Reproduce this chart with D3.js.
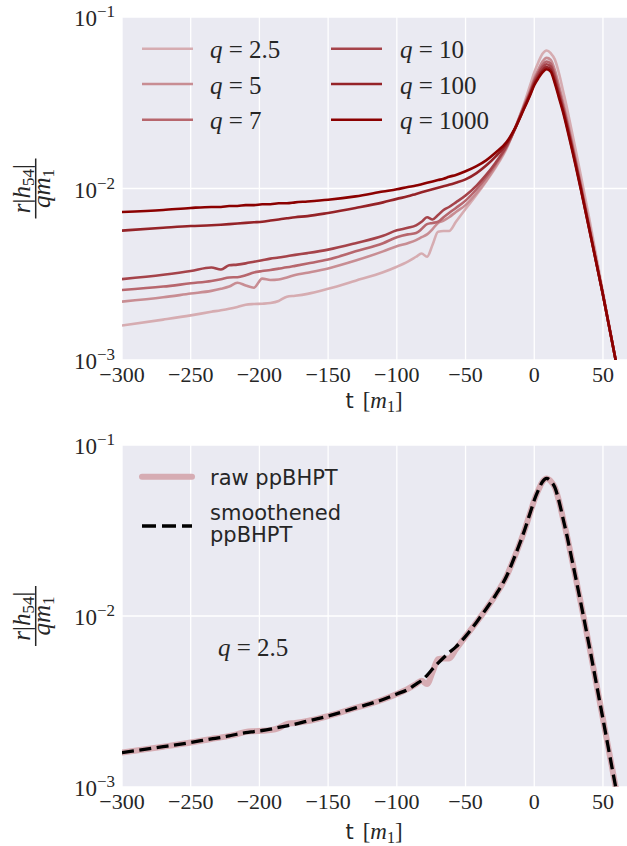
<!DOCTYPE html>
<html><head><meta charset="utf-8">
<script src="https://cdn.jsdelivr.net/npm/d3@7/dist/d3.min.js"></script>
<style>
body{margin:0;background:#fff}svg{display:block}
.serif{font-family:"Liberation Serif","Times New Roman","DejaVu Serif",serif}
.sans{font-family:"DejaVu Sans","Liberation Sans",sans-serif}
</style>
</head><body>
<svg id="c" width="627" height="846"></svg>
<script>
// ---------------- data ----------------
const T = [-300,-270,-250,-235,-228,-222,-216,-210,-204,-198,-192,-186,-180,-174,-165,-150,-130,-110,-100,-92,-86,-82,-78,-74,-70,-66,-62,-57,-50,-42,-35,-28,-20,-14,-8,-3,0,3,6,9,12,15,18,21,24,27,30,34,40,50,60,70];

const q2p5 = [0.00159,0.00172,0.00182,0.00191,0.00195,0.00199,0.00204,0.00210,0.00212,0.00213,0.00215,0.00221,0.00234,0.00237,0.00243,0.00260,0.00290,0.00325,0.00350,0.00375,0.00400,0.00418,0.00400,0.00470,0.00560,0.00565,0.00565,0.00640,0.00760,0.00920,0.01100,0.01330,0.01720,0.02250,0.03020,0.04000,0.04750,0.05450,0.06100,0.06380,0.06150,0.05650,0.04700,0.03700,0.02900,0.02220,0.01700,0.01180,0.00670,0.00250,0.00093,0.00036];

const q5 = [0.00219,0.00232,0.00244,0.00253,0.00260,0.00268,0.00282,0.00272,0.00264,0.00298,0.00293,0.00295,0.00303,0.00313,0.00323,0.00342,0.0038,0.0043,0.0046,0.0048,0.0050,0.0052,0.0054,0.0058,0.0063,0.0065,0.0068,0.0073,0.0080,0.0094,0.0111,0.0135,0.0174,0.0224,0.0298,0.0375,0.0440,0.0495,0.0550,0.0578,0.0562,0.0490,0.0398,0.0320,0.0252,0.0196,0.0151,0.0106,0.0062,0.0024,0.00093,0.00038];

const q7 = [0.00256,0.00268,0.0028,0.00289,0.00296,0.00303,0.00304,0.00312,0.00324,0.00330,0.00335,0.00341,0.00347,0.00354,0.00365,0.00385,0.0043,0.0048,0.0052,0.0054,0.0055,0.0058,0.0062,0.0063,0.0064,0.0068,0.0072,0.0077,0.0085,0.0099,0.0116,0.0139,0.0176,0.0223,0.0295,0.0368,0.0428,0.0478,0.0525,0.0550,0.0535,0.0462,0.0376,0.0305,0.0242,0.0189,0.0146,0.0103,0.0060,0.0024,0.00093,0.00038];

const q10 = [0.00296,0.00314,0.00330,0.00346,0.00337,0.00357,0.00360,0.00366,0.00374,0.00382,0.0039,0.00396,0.00403,0.0041,0.0042,0.0044,0.0048,0.0053,0.0057,0.0059,0.0061,0.0064,0.0068,0.0066,0.0070,0.0075,0.0078,0.0083,0.0091,0.0104,0.0120,0.0142,0.0178,0.0223,0.0292,0.0362,0.0418,0.0465,0.0508,0.0530,0.0515,0.0445,0.0362,0.0295,0.0235,0.0184,0.0143,0.0101,0.0059,0.0024,0.00093,0.00038];

const q100 = [0.00568,0.0059,0.00604,0.0061,0.00615,0.0062,0.00625,0.0063,0.00635,0.0064,0.0065,0.0066,0.0067,0.0068,0.0069,0.0072,0.0077,0.0083,0.0087,0.0090,0.0093,0.0095,0.0097,0.0099,0.0101,0.0103,0.0105,0.0108,0.0113,0.0123,0.0136,0.0154,0.0183,0.0223,0.0287,0.0355,0.0408,0.0450,0.0488,0.0510,0.0494,0.0423,0.0348,0.0285,0.0228,0.0179,0.0140,0.0099,0.0058,0.0024,0.00093,0.00038];

const q1000 = [0.0073,0.0075,0.0077,0.0078,0.0078,0.0079,0.0079,0.0080,0.0080,0.0081,0.0081,0.0082,0.0082,0.0083,0.0084,0.0086,0.0090,0.0096,0.0099,0.0102,0.0104,0.0106,0.0108,0.0110,0.0112,0.0114,0.0117,0.0120,0.0126,0.0135,0.0146,0.0162,0.0187,0.0225,0.0285,0.0350,0.0400,0.0440,0.0475,0.0496,0.0480,0.0410,0.0338,0.0278,0.0222,0.0175,0.0137,0.0098,0.0058,0.0024,0.00093,0.00038];

const q2p5Smooth = [0.00159,0.00172,0.00182,0.00191,0.00195,0.00199,0.00204,0.00208,0.00211,0.00214,0.00218,0.00223,0.00228,0.00233,0.00243,0.00260,0.00290,0.00325,0.00350,0.00372,0.00400,0.00420,0.00450,0.00490,0.00530,0.00570,0.00610,0.00660,0.00760,0.00920,0.01100,0.01330,0.01720,0.02250,0.03020,0.04000,0.04750,0.05450,0.06100,0.06380,0.06150,0.05650,0.04700,0.03700,0.02900,0.02220,0.01700,0.01180,0.00670,0.00250,0.00093,0.00036];

const qLabels = ["2.5","5","7","10","100","1000"];
const xTicks = [-300,-250,-200,-150,-100,-50,0,50];
const yTickExps = [-1,-2,-3];

// ---------------- style ----------------
const colors = ["#d6acb1","#c88d93","#b7666d","#a5434a","#952328","#8b0000"];
const rawColor = "#d6acb3";
const bg = "#eaeaf2";
const txt = "#262626";

const svg = d3.select("#c");
const series = [q2p5, q5, q7, q10, q100, q1000];

function panel(id, yTop, yBot, xLabelBase) {
  const x = d3.scaleLinear().domain([-300, 67.5]).range([122, 627]);
  const y = d3.scaleLog().domain([1e-3, 1e-1]).range([yBot, yTop]);
  const g = svg.append("g");
  g.append("rect").attr("x",122).attr("y",yTop).attr("width",627-122).attr("height",yBot-yTop).attr("fill",bg);
  g.selectAll(".vg").data(xTicks).enter().append("line")
    .attr("x1",d=>x(d)).attr("x2",d=>x(d)).attr("y1",yTop).attr("y2",yBot)
    .attr("stroke","#fff").attr("stroke-width",1.3);
  g.selectAll(".hg").data(yTickExps).enter().append("line")
    .attr("x1",122).attr("x2",627).attr("y1",d=>y(Math.pow(10,d))).attr("y2",d=>y(Math.pow(10,d)))
    .attr("stroke","#fff").attr("stroke-width",1.3);
  svg.append("clipPath").attr("id","clip"+id).append("rect")
    .attr("x",122).attr("y",yTop).attr("width",627-122).attr("height",yBot-yTop);
  g.selectAll(".xt").data(xTicks).enter().append("text").attr("class","serif")
    .attr("x",d=>x(d)).attr("y",yBot+22).attr("text-anchor","middle")
    .attr("font-size",22).attr("fill",txt)
    .text(d=> d<0 ? "\u2212"+Math.abs(d) : String(d));
  yTickExps.forEach(e=>{
    const t = g.append("text").attr("class","serif").attr("x",115).attr("y",y(Math.pow(10,e))+9)
      .attr("text-anchor","end").attr("font-size",23).attr("fill",txt);
    t.append("tspan").text("10");
    t.append("tspan").attr("dy",-9).attr("font-size",17).text("\u2212"+Math.abs(e));
  });
  const xl = g.append("text").attr("class","serif").attr("x",374).attr("y",xLabelBase).attr("text-anchor","middle")
    .attr("fill",txt).attr("font-size",23);
  xl.append("tspan").attr("class","sans").attr("font-size",21).text("t");
  xl.append("tspan").attr("dx",9).text("[");
  xl.append("tspan").attr("font-style","italic").text("m");
  xl.append("tspan").attr("font-size",16).attr("dy",4).text("1");
  xl.append("tspan").attr("dy",-4).text("]");
  const cy = (yTop+yBot)/2;
  const yl = g.append("g").attr("transform",`translate(35.7,${cy}) rotate(-90)`);
  yl.append("line").attr("x1",-30).attr("x2",30).attr("y1",0).attr("y2",0)
    .attr("stroke",txt).attr("stroke-width",1.5);
  const num = yl.append("text").attr("class","serif").attr("x",0).attr("y",-6).attr("text-anchor","middle")
    .attr("font-size",25).attr("fill",txt);
  num.append("tspan").attr("font-style","italic").text("r");
  num.append("tspan").text("|");
  num.append("tspan").attr("font-style","italic").text("h");
  num.append("tspan").attr("font-size",17).attr("dy",4).text("54");
  num.append("tspan").attr("dy",-4).text("|");
  const den = yl.append("text").attr("class","serif").attr("x",0).attr("y",14).attr("text-anchor","middle")
    .attr("font-size",25).attr("fill",txt);
  den.append("tspan").attr("font-style","italic").text("qm");
  den.append("tspan").attr("font-size",17).attr("dy",4).text("1");
  return {x, y, g, clip:"url(#clip"+id+")"};
}

// ---------------- top panel ----------------
const P1 = panel("a", 17, 360, 408);
const line1 = d3.line().x((d,i)=>P1.x(T[i])).y(d=>P1.y(d)).curve(d3.curveMonotoneX);
const lg1 = P1.g.append("g").attr("clip-path",P1.clip);
series.forEach((s,k)=>{
  lg1.append("path").attr("d",line1(s)).attr("fill","none")
    .attr("stroke",colors[k]).attr("stroke-width",2.6).attr("stroke-linejoin","round");
});
const legRows = [48.7, 84, 119.7];
qLabels.forEach((lab,k)=>{
  const col = Math.floor(k/3), row = k%3;
  const lx = col===0 ? 142 : 331;
  const tx = col===0 ? 210 : 400;
  const yy = legRows[row];
  P1.g.append("line").attr("x1",lx).attr("x2",lx+51).attr("y1",yy).attr("y2",yy)
    .attr("stroke",colors[k]).attr("stroke-width",2.6);
  const t = P1.g.append("text").attr("class","serif").attr("x",tx).attr("y",yy+9.5)
    .attr("font-size",25).attr("fill",txt).attr("xml:space","preserve");
  t.append("tspan").attr("font-style","italic").text("q");
  t.append("tspan").text(" = "+lab);
});

// ---------------- bottom panel ----------------
const P2 = panel("b", 445, 787, 839);
const line2 = d3.line().x((d,i)=>P2.x(T[i])).y(d=>P2.y(d)).curve(d3.curveMonotoneX);
const lg2 = P2.g.append("g").attr("clip-path",P2.clip);
lg2.append("path").attr("d",line2(q2p5)).attr("fill","none")
  .attr("stroke",rawColor).attr("stroke-width",6).attr("stroke-linejoin","round").attr("stroke-linecap","round");
lg2.append("path").attr("d",line2(q2p5Smooth)).attr("fill","none")
  .attr("stroke","#000").attr("stroke-width",3.3).attr("stroke-dasharray","12,5.5");
P2.g.append("line").attr("x1",142).attr("x2",192).attr("y1",476.7).attr("y2",476.7)
  .attr("stroke",rawColor).attr("stroke-width",6).attr("stroke-linecap","round");
P2.g.append("text").attr("class","sans").attr("x",210).attr("y",485).attr("font-size",21)
  .attr("fill",txt).text("raw ppBHPT");
P2.g.append("line").attr("x1",142).attr("x2",192).attr("y1",526).attr("y2",526)
  .attr("stroke","#000").attr("stroke-width",3.3).attr("stroke-dasharray","14,6");
P2.g.append("text").attr("class","sans").attr("x",210).attr("y",520).attr("font-size",21)
  .attr("fill",txt).text("smoothened");
P2.g.append("text").attr("class","sans").attr("x",210).attr("y",542).attr("font-size",21)
  .attr("fill",txt).text("ppBHPT");
const ann = P2.g.append("text").attr("class","serif").attr("x",218).attr("y",656)
  .attr("font-size",25).attr("fill",txt).attr("xml:space","preserve");
ann.append("tspan").attr("font-style","italic").text("q");
ann.append("tspan").text(" = 2.5");
</script>
</body></html>
